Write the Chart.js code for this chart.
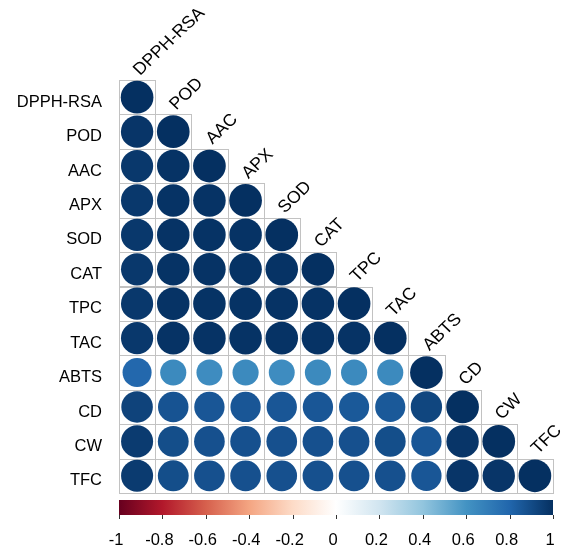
<!DOCTYPE html>
<html>
<head>
<meta charset="utf-8">
<script src="https://cdn.jsdelivr.net/npm/chart.js@4/dist/chart.umd.min.js"></script>
<style>
  html, body { margin: 0; padding: 0; background: #ffffff; }
  #wrap { width: 563px; height: 548px; position: relative; }
</style>
</head>
<body>
<div id="wrap"><canvas id="corr"></canvas></div>
<script>
// Variables, in matrix order
const variables = ['DPPH-RSA', 'POD', 'AAC', 'APX', 'SOD', 'CAT', 'TPC', 'TAC', 'ABTS', 'CD', 'CW', 'TFC'];

// Lower triangle of the correlation matrix, one row per variable (diagonal included)
const rowDPPH = [1];
const rowPOD  = [0.98, 1];
const rowAAC  = [0.97, 0.99, 1];
const rowAPX  = [0.97, 0.99, 0.99, 1];
const rowSOD  = [0.97, 0.99, 0.99, 0.99, 1];
const rowCAT  = [0.97, 0.99, 0.99, 0.99, 0.99, 1];
const rowTPC  = [0.97, 0.99, 0.99, 0.99, 0.99, 0.99, 1];
const rowTAC  = [0.97, 0.99, 0.99, 0.99, 0.99, 0.99, 0.99, 1];
const rowABTS = [0.79, 0.64, 0.63, 0.64, 0.63, 0.64, 0.64, 0.64, 1];
const rowCD   = [0.93, 0.87, 0.86, 0.86, 0.86, 0.86, 0.85, 0.85, 0.92, 1];
const rowCW   = [0.96, 0.89, 0.88, 0.88, 0.88, 0.88, 0.88, 0.89, 0.86, 0.98, 1];
const rowTFC  = [0.96, 0.89, 0.88, 0.88, 0.88, 0.88, 0.88, 0.88, 0.86, 0.98, 0.98, 1];
const matrixRows = [rowDPPH, rowPOD, rowAAC, rowAPX, rowSOD, rowCAT, rowTPC, rowTAC, rowABTS, rowCD, rowCW, rowTFC];

// Colour legend tick labels
const legendTicks = [-1, -0.8, -0.6, -0.4, -0.2, 0, 0.2, 0.4, 0.6, 0.8, 1];

// Diverging red-blue palette from -1 to 1
const palette = ['#67001F', '#B2182B', '#D6604D', '#F4A582', '#FDDBC7', '#FFFFFF',
                 '#D1E5F0', '#92C5DE', '#4393C3', '#2166AC', '#053061'];

function hexToRgb(h) {
  return [parseInt(h.slice(1, 3), 16), parseInt(h.slice(3, 5), 16), parseInt(h.slice(5, 7), 16)];
}
function corrColor(v) {
  const t = Math.max(0, Math.min(1, (v + 1) / 2)) * (palette.length - 1);
  const i = Math.min(palette.length - 2, Math.floor(t));
  const f = t - i;
  const a = hexToRgb(palette[i]), b = hexToRgb(palette[i + 1]);
  const c = a.map((x, k) => Math.round(x + (b[k] - x) * f));
  return 'rgb(' + c.join(',') + ')';
}

// Build one point per lower-triangle cell
const points = [];
matrixRows.forEach((row, i) => {
  row.forEach((v, j) => {
    points.push({ x: variables[j], y: variables[i], v: v });
  });
});

const FONT = '"Liberation Sans", Arial, Helvetica, sans-serif';

function cellSize(chart) {
  const xs = chart.scales.x, ys = chart.scales.y;
  if (!xs || !ys || !xs.width || !ys.height) return { w: 0, h: 0 };
  return { w: xs.width / variables.length, h: ys.height / variables.length };
}

// Grey cell outlines behind the circles
const gridPlugin = {
  id: 'cellGrid',
  beforeDatasetsDraw(chart) {
    const { ctx } = chart;
    const xs = chart.scales.x, ys = chart.scales.y;
    const { w, h } = cellSize(chart);
    ctx.save();
    ctx.strokeStyle = '#c2c2c2';
    ctx.lineWidth = 1;
    matrixRows.forEach((row, i) => {
      row.forEach((v, j) => {
        const cx = xs.getPixelForValue(j);
        const cy = ys.getPixelForValue(i);
        const x0 = Math.round(cx - w / 2) + 0.5;
        const y0 = Math.round(cy - h / 2) + 0.5;
        const x1 = Math.round(cx + w / 2) + 0.5;
        const y1 = Math.round(cy + h / 2) + 0.5;
        ctx.strokeRect(x0, y0, x1 - x0, y1 - y0);
      });
    });
    ctx.restore();
  }
};

// Diagonal variable names and the colour legend
const labelPlugin = {
  id: 'diagLabelsAndLegend',
  afterDraw(chart) {
    const { ctx, chartArea } = chart;
    const xs = chart.scales.x, ys = chart.scales.y;
    const { w, h } = cellSize(chart);
    ctx.save();
    ctx.fillStyle = '#000000';
    ctx.font = '17px ' + FONT;
    ctx.textAlign = 'left';
    ctx.textBaseline = 'alphabetic';
    variables.forEach((name, j) => {
      const cx = xs.getPixelForValue(j);
      const top = ys.getPixelForValue(j) - h / 2;
      ctx.save();
      ctx.translate(cx + 3, top - 4);
      ctx.scale(1.05, 1);
      ctx.rotate(-Math.PI / 4);
      ctx.fillText(name, 0, 0);
      ctx.restore();
    });

    // colour bar
    const left = chartArea.left, right = chartArea.right;
    const barTop = chartArea.bottom + 7, barH = 15;
    const grad = ctx.createLinearGradient(left, 0, right, 0);
    palette.forEach((c, k) => grad.addColorStop(k / (palette.length - 1), c));
    ctx.fillStyle = grad;
    ctx.fillRect(left, barTop, right - left, barH);

    ctx.strokeStyle = '#333333';
    ctx.lineWidth = 1;
    ctx.fillStyle = '#000000';
    ctx.font = '16.5px ' + FONT;
    ctx.textAlign = 'center';
    ctx.textBaseline = 'middle';
    legendTicks.forEach(t => {
      const x = left + (t + 1) / 2 * (right - left);
      const px = Math.round(x) + 0.5;
      ctx.beginPath();
      ctx.moveTo(px, barTop + barH);
      ctx.lineTo(px, barTop + barH + 4);
      ctx.stroke();
      ctx.fillText(String(t), x - 3, barTop + barH + 25);
    });
    ctx.restore();
  }
};

new Chart(document.getElementById('corr'), {
  type: 'scatter',
  data: {
    datasets: [{
      data: points,
      showLine: false,
      pointBorderWidth: 0,
      pointBackgroundColor: ctx => (ctx.raw ? corrColor(ctx.raw.v) : palette[10]),
      pointRadius: ctx => {
        if (!ctx.raw) return 0;
        const { w, h } = cellSize(ctx.chart);
        return Math.sqrt(Math.abs(ctx.raw.v)) * 0.95 * Math.min(w, h) / 2;
      }
    }]
  },
  options: {
    responsive: true,
    maintainAspectRatio: false,
    animation: false,
    events: [],
    layout: { padding: { left: 0, right: 10, top: 80, bottom: 55 } },
    plugins: {
      legend: { display: false },
      tooltip: { enabled: false }
    },
    scales: {
      x: {
        type: 'category',
        labels: variables,
        offset: true,
        display: false
      },
      y: {
        type: 'category',
        labels: variables,
        offset: true,
        grid: { display: false, drawTicks: false },
        border: { display: false },
        ticks: {
          autoSkip: false,
          color: '#000000',
          font: { family: FONT, size: 16.5 },
          padding: 17,
          labelOffset: 5
        },
        afterFit(scale) { scale.width = 119; }
      }
    }
  },
  plugins: [gridPlugin, labelPlugin]
});
</script>
</body>
</html>
